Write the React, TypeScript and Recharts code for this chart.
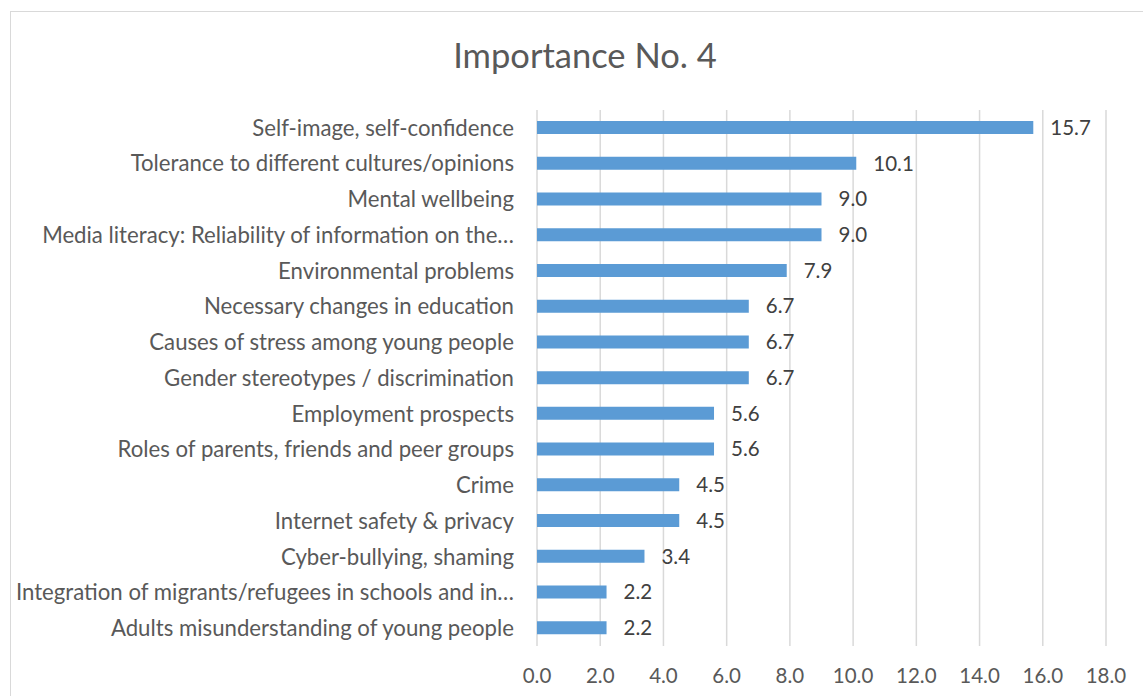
import { BarChart, Bar, XAxis, YAxis, CartesianGrid, LabelList } from 'recharts'

const topics = [
  'Self-image, self-confidence',
  'Tolerance to different cultures/opinions',
  'Mental wellbeing',
  'Media literacy: Reliability of information on the…',
  'Environmental problems',
  'Necessary changes in education',
  'Causes of stress among young people',
  'Gender stereotypes / discrimination',
  'Employment prospects',
  'Roles of parents, friends and peer groups',
  'Crime',
  'Internet safety & privacy',
  'Cyber-bullying, shaming',
  'Integration of migrants/refugees in schools and in…',
  'Adults misunderstanding of young people'
]

const shares = [15.7, 10.1, 9.0, 9.0, 7.9, 6.7, 6.7, 6.7, 5.6, 5.6, 4.5, 4.5, 3.4, 2.2, 2.2]

const xTicks = [0, 2, 4, 6, 8, 10, 12, 14, 16, 18]

const FONT = 'Lato, "Open Sans", sans-serif'

export default function App() {
  const data = topics.map((topic, i) => ({ topic, value: shares[i] }))

  return (
    <div style={{ position: 'absolute', left: 0, top: 0, width: 1143, height: 696, background: '#fff', fontFamily: FONT, overflow: 'hidden' }}>
      <div
        style={{
          position: 'absolute', left: 10, top: 11, width: 1160, height: 720,
          border: '1px solid #d9d9d9', boxSizing: 'border-box'
        }}
      />
      <div
        style={{
          position: 'absolute', left: 0, top: 34, width: 1170, textAlign: 'center',
          fontSize: 34.5, color: '#595959'
        }}
      >
        Importance No. 4
      </div>
      <div style={{ position: 'absolute', left: 0, top: 0 }}>
        <BarChart
          width={1143}
          height={696}
          data={data}
          layout="vertical"
          margin={{ top: 110, right: 37, bottom: 0, left: 0 }}
          barSize={13}
        >
          <CartesianGrid horizontal={false} stroke="#d9d9d9" strokeWidth={1.5} />
          <XAxis
            type="number"
            domain={[0, 18]}
            ticks={xTicks}
            axisLine={false}
            tickLine={false}
            tickSize={0}
            tickMargin={22}
            height={50}
            tick={{ fill: '#595959', fontSize: 20.5, fontFamily: FONT }}
            tickFormatter={(v: number) => v.toFixed(1)}
          />
          <YAxis
            type="category"
            dataKey="topic"
            width={537}
            axisLine={false}
            tickLine={false}
            tickSize={0}
            tickMargin={23}
            interval={0}
            tick={{ fill: '#595959', fontSize: 22.2, fontFamily: FONT }}
          />
          <Bar dataKey="value" fill="#5b9bd5" isAnimationActive={false}>
            <LabelList
              dataKey="value"
              position="right"
              offset={17}
              fill="#404040"
              fontSize={20.5}
              fontFamily={FONT}
              formatter={(v: number) => v.toFixed(1)}
            />
          </Bar>
        </BarChart>
      </div>
    </div>
  )
}
